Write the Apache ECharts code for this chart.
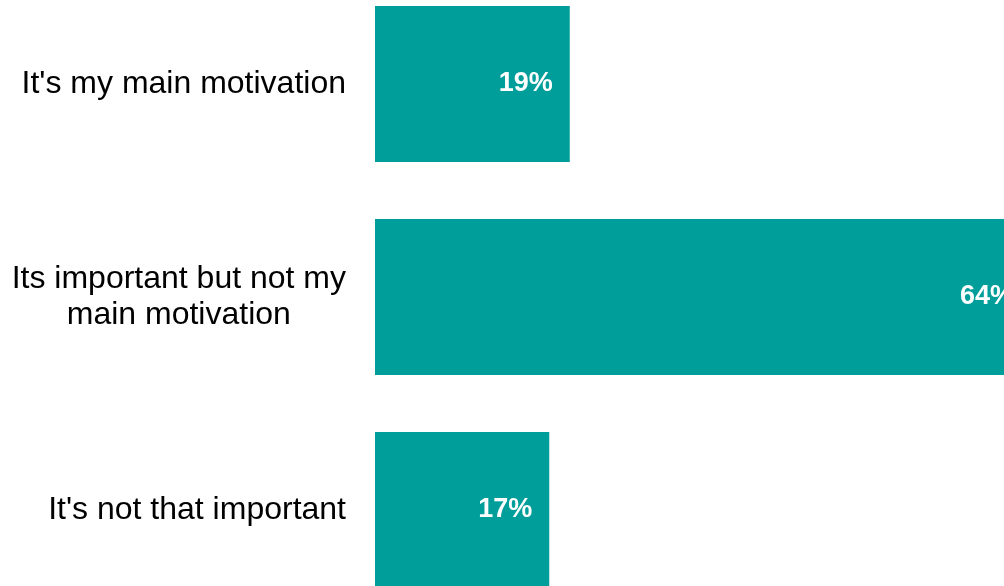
<!DOCTYPE html>
<html>
<head>
<meta charset="utf-8">
<script src="https://cdn.jsdelivr.net/npm/echarts@6/dist/echarts.min.js"></script>
<style>
  html, body { margin: 0; padding: 0; background: #ffffff; }
  #chart { width: 1004px; height: 586px; }
</style>
</head>
<body>
<div id="chart"></div>
<script>
// Survey answers and their shares (percent)
const categories = [
  "It's my main motivation",
  "Its important but not my\nmain motivation",
  "It's not that important"
];
const shares = [19, 64, 17];

const chart = echarts.init(document.getElementById('chart'), null, { renderer: 'canvas' });

chart.setOption({
  animation: false,
  backgroundColor: '#ffffff',
  grid: {
    left: 375,
    top: -22.5,
    width: 1025,
    height: 639,
    containLabel: false,
    outerBoundsMode: 'none'
  },
  xAxis: {
    type: 'value',
    min: 0,
    max: 100,
    show: false
  },
  yAxis: {
    type: 'category',
    data: categories,
    inverse: true,
    axisLine: { show: false },
    axisTick: { show: false },
    splitLine: { show: false },
    axisLabel: {
      margin: 29,
      color: '#000000',
      fontFamily: 'Liberation Sans, Arial, sans-serif',
      fontSize: 32,
      lineHeight: 36,
      align: 'right',
      // each line centred within the right-aligned label block
      formatter: v => v.split('\n').map(s => '{c|' + s + '}').join('\n'),
      rich: {
        c: {
          align: 'center',
          color: '#000000',
          fontFamily: 'Liberation Sans, Arial, sans-serif',
          fontSize: 32,
          lineHeight: 36
        }
      }
    }
  },
  series: [{
    type: 'bar',
    data: shares,
    barWidth: 156,
    itemStyle: { color: '#009E9A' },
    label: {
      show: true,
      position: 'insideRight',
      distance: 17,
      formatter: p => p.value + '%',
      color: '#ffffff',
      fontFamily: 'Liberation Sans, Arial, sans-serif',
      fontWeight: 'bold',
      fontSize: 27
    }
  }]
});
</script>
</body>
</html>
